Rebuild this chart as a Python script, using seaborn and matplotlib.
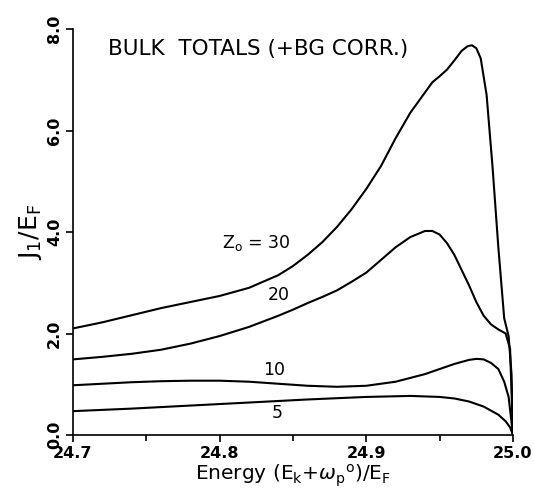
import numpy as np
import pandas as pd
import matplotlib
matplotlib.use("Agg")
import matplotlib.pyplot as plt
import seaborn as sns
from matplotlib.ticker import MultipleLocator

# ---- data ----
x_z30 = [24.70, 24.72, 24.74, 24.76, 24.78, 24.80, 24.82, 24.84, 24.85, 24.86,
         24.87, 24.88, 24.89, 24.90, 24.91, 24.92, 24.93, 24.94, 24.945, 24.95,
         24.955, 24.96, 24.965, 24.969, 24.972, 24.975, 24.978, 24.982, 24.986, 24.990,
         24.994, 24.997, 24.999, 25.0]
y_z30 = [2.10, 2.22, 2.36, 2.50, 2.62, 2.74, 2.90, 3.15, 3.33, 3.55,
         3.80, 4.10, 4.45, 4.85, 5.30, 5.85, 6.35, 6.75, 6.95, 7.07,
         7.20, 7.38, 7.57, 7.66, 7.68, 7.62, 7.42, 6.70, 5.30, 3.70,
         2.30, 1.95, 1.20, 0.0]

x_z20 = [24.70, 24.72, 24.74, 24.76, 24.78, 24.80, 24.82, 24.83, 24.84, 24.85,
         24.86, 24.87, 24.88, 24.89, 24.90, 24.91, 24.92, 24.93, 24.94, 24.945,
         24.95, 24.955, 24.96, 24.965, 24.97, 24.975, 24.98, 24.985, 24.99, 24.995,
         24.998, 25.0]
y_z20 = [1.49, 1.54, 1.60, 1.68, 1.80, 1.95, 2.13, 2.24, 2.35, 2.47,
         2.60, 2.72, 2.85, 3.02, 3.20, 3.45, 3.70, 3.90, 4.02, 4.02,
         3.95, 3.78, 3.55, 3.25, 2.95, 2.62, 2.35, 2.18, 2.08, 2.00,
         1.70, 0.0]

x_z10 = [24.70, 24.72, 24.74, 24.76, 24.78, 24.80, 24.82, 24.84, 24.86, 24.88,
         24.90, 24.92, 24.94, 24.95, 24.96, 24.97, 24.975, 24.98, 24.985, 24.99,
         24.994, 24.997, 25.0]
y_z10 = [0.98, 1.01, 1.04, 1.06, 1.07, 1.07, 1.05, 1.01, 0.97, 0.95,
         0.97, 1.05, 1.20, 1.30, 1.40, 1.48, 1.50, 1.49, 1.42, 1.30,
         1.05, 0.75, 0.0]

x_z5 = [24.70, 24.74, 24.78, 24.82, 24.86, 24.90, 24.93, 24.95, 24.96, 24.97,
        24.98, 24.99, 24.995, 24.998, 25.0]
y_z5 = [0.47, 0.52, 0.58, 0.64, 0.70, 0.75, 0.77, 0.75, 0.72, 0.66,
        0.56, 0.40, 0.27, 0.15, 0.0]

series_names = ["30", "20", "10", "5"]
curve_labels = [r"Z$_{\mathregular{o}}$ = 30", "20", "10", "5"]
xticks = [24.7, 24.8, 24.9, 25.0]
yticks = [0.0, 2.0, 4.0, 6.0, 8.0]
title_text = "BULK  TOTALS (+BG CORR.)"

frames = []
for name, xs, ys in zip(series_names, [x_z30, x_z20, x_z10, x_z5],
                        [y_z30, y_z20, y_z10, y_z5]):
    frames.append(pd.DataFrame({"energy": xs, "J": ys, "Z0": name}))
df = pd.concat(frames, ignore_index=True)

sns.set_style("ticks")
plt.rcParams["font.family"] = ["DejaVu Sans"]
plt.rcParams["text.color"] = "black"
plt.rcParams["axes.labelcolor"] = "black"
plt.rcParams["xtick.color"] = "black"
plt.rcParams["ytick.color"] = "black"

fig = plt.figure(figsize=(5.34, 4.96), dpi=100)
ax = fig.add_axes([73/534, 1 - 435/496, (513 - 73)/534, (435 - 29)/496])

for name in series_names:
    sns.lineplot(data=df[df["Z0"] == name], x="energy", y="J", sort=False,
                 color="black", linewidth=1.5, ax=ax, estimator=None)

ax.set_xlim(24.7, 25.0)
ax.set_ylim(0, 8)
ax.set_xticks(xticks)
ax.set_xticklabels([f"{t:.1f}" for t in xticks], fontweight="bold", fontsize=11.5)
ax.xaxis.set_minor_locator(MultipleLocator(0.05))
ax.set_yticks(yticks)
ax.set_yticklabels([f"{t:.1f}" for t in yticks], fontweight="bold", fontsize=11.5,
                   rotation=90, va="center")
ax.tick_params(axis="both", which="major", direction="out", length=5, width=1.2,
               color="black", labelcolor="black", pad=3)
ax.tick_params(axis="x", which="minor", direction="out", length=4, width=1.2, color="black")
sns.despine(ax=ax)
for s in ["left", "bottom"]:
    ax.spines[s].set_linewidth(1.2)
    ax.spines[s].set_color("black")

ax.set_xlabel(r"Energy (E$_\mathregular{k}$+$\omega_\mathregular{p}$$^\mathregular{o}$)/E$_\mathregular{F}$",
              fontsize=14.5, labelpad=1, color="black")
ax.set_ylabel(r"J$_\mathregular{1}$/E$_\mathregular{F}$", fontsize=18, labelpad=2, color="black")

ax.text(24.724, 7.60, title_text, fontsize=15.5, va="center", ha="left", color="black")
label_pos = [(24.825, 3.78), (24.840, 2.76), (24.837, 1.28), (24.839, 0.43)]
for lab, (lx, ly) in zip(curve_labels, label_pos):
    ax.text(lx, ly, lab, fontsize=12.5, ha="center", va="center", color="black")

fig.savefig("out.png", dpi=100)
